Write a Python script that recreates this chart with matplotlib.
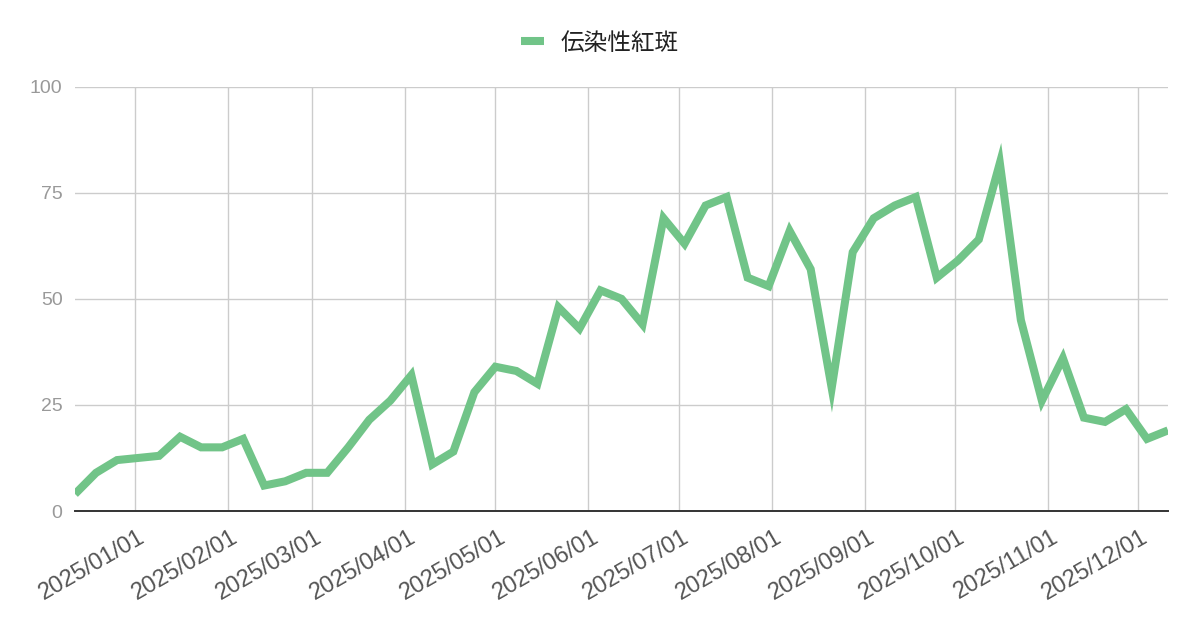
import matplotlib
matplotlib.use("Agg")
import matplotlib.pyplot as plt
import matplotlib.transforms as mtransforms
import pandas as pd

# ---- data ----
series_name = "伝染性紅斑"
start_date = "2024-12-12"
values = [4, 9, 12, 12.5, 13, 17.5, 15, 15, 17, 6,
          7, 9, 9, 15, 21.5, 26, 32, 11, 14, 28,
          34, 33, 30, 48, 43, 52, 50, 44, 69, 63,
          72, 74, 55, 53, 66, 57, 29, 61, 69, 72,
          74, 55, 59, 64, 82, 45, 26, 36, 22, 21,
          24, 17, 19]
dates = pd.date_range(start_date, periods=len(values), freq="7D")
y_ticks = [0, 25, 50, 75, 100]
x_tick_dates = pd.date_range("2025-01-01", "2025-12-01", freq="MS")
x_tick_labels = [d.strftime("%Y/%m/%d") for d in x_tick_dates]

line_color = "#71C488"

fig = plt.figure(figsize=(12, 6.26), dpi=100)
ax = fig.add_axes([75/1200, 1-511/626, (1168-75)/1200, (511-86.7)/626])

ax.plot(dates, values, color=line_color, lw=5.8, solid_joinstyle="miter",
        solid_capstyle="butt", label=series_name, zorder=3)

ax.set_xlim(dates[0], dates[-1])
ax.set_ylim(0, 100)
ax.set_yticks(y_ticks)
ax.set_yticklabels([str(v) for v in y_ticks], family="Liberation Sans",
                   fontsize=14, color="#999999")
ax.set_xticks(x_tick_dates)
ax.set_xticklabels(x_tick_labels, family="Liberation Sans", fontsize=17,
                   color="#555555", rotation=30, ha="right", va="center",
                   rotation_mode="anchor")

ax.tick_params(axis="both", length=0)
ax.tick_params(axis="y", pad=9)
ax.tick_params(axis="x", pad=17.5)
ax.grid(True, color="#cccccc", lw=1.0, zorder=0)
ax.set_axisbelow(True)
for s in ["top", "right", "left"]:
    ax.spines[s].set_visible(False)
ax.spines["bottom"].set_color("#333333")
ax.spines["bottom"].set_linewidth(1.4)
ax.spines["bottom"].set_zorder(4)

offset = mtransforms.ScaledTranslation(8.5/100, 0, fig.dpi_scale_trans)
for lab in ax.get_xticklabels():
    lab.set_transform(lab.get_transform() + offset)

leg = fig.legend(loc="center", bbox_to_anchor=(0.5, 1-43/626), frameon=False,
                 prop={"family": ["Noto Sans CJK JP", "DejaVu Sans"], "size": 17},
                 handlelength=1.0, handletextpad=0.7)
for t in leg.get_texts():
    t.set_color("#222222")

fig.savefig("out.png", dpi=100)
